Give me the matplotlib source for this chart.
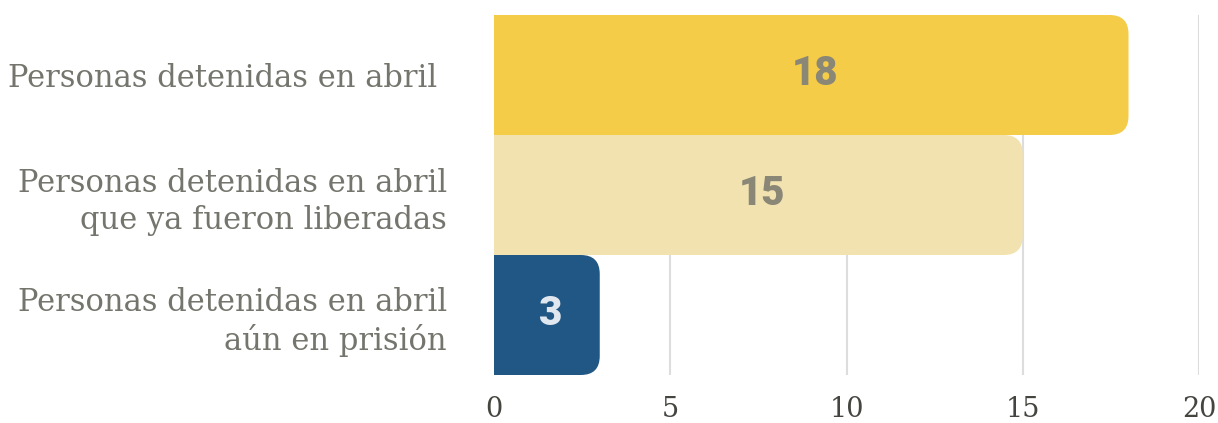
import numpy as np
import matplotlib
matplotlib.use("Agg")
import matplotlib.pyplot as plt
from matplotlib.patches import FancyBboxPatch

# datos
categorias = ["Personas detenidas en abril ",
              "Personas detenidas en abril\nque ya fueron liberadas",
              "Personas detenidas en abril\naún en prisión"]
valores = [18, 15, 3]
colores = ["#F5CC47", "#F2E2B0", "#215784"]
colores_texto = ["#8A8776", "#8A8776", "#E1E7EF"]
ticks_x = [0, 5, 10, 15, 20]

W, H, DPI = 1218, 423, 100
fig = plt.figure(figsize=(W / DPI, H / DPI), dpi=DPI)
ax = fig.add_axes([494 / W, 1 - 375 / H, (1199 - 494) / W, (375 - 15) / H])

y = np.arange(len(valores))
ax.set_xlim(0, 20)
ax.set_ylim(len(valores) - 0.5, -0.5)

# radio de las esquinas en pixeles -> unidades de datos
r_px = 19
px_x = ax.get_position().width * W / 20
px_y = ax.get_position().height * H / len(valores)
rx = r_px / px_x
ry = r_px / px_y

for yi, v, c, tc in zip(y, valores, colores, colores_texto):
    # parte izquierda recta
    ax.barh(yi, v / 2, height=1.0, color=c, zorder=2)
    # caja redondeada completa
    box = FancyBboxPatch((0, yi - 0.5), v, 1.0,
                         boxstyle=f"round,pad=0,rounding_size={rx}",
                         mutation_aspect=ry / rx,
                         fc=c, ec="none", zorder=2)
    ax.add_patch(box)
    ax.text(v / 2 + 0.1, yi - 0.01, str(v), ha="center", va="center",
            fontsize=29, fontweight="heavy", family="Roboto",
            color=tc, zorder=3)

for t in ticks_x:
    ax.axvline(t, color="#DDDDDD", lw=1.5, zorder=1)

ax.set_xticks(ticks_x)
ax.set_xticklabels([str(t) for t in ticks_x], family="DejaVu Serif",
                   fontsize=19.5, color="#454540")
ax.set_yticks(y)
ax.set_yticklabels(categorias, family="DejaVu Serif", fontsize=22,
                   color="#75756E", linespacing=1.25)
ax.tick_params(axis="x", length=0, pad=15)
ax.tick_params(axis="y", length=0, pad=34)
for s in ax.spines.values():
    s.set_visible(False)

fig.savefig("out.png", dpi=DPI)
